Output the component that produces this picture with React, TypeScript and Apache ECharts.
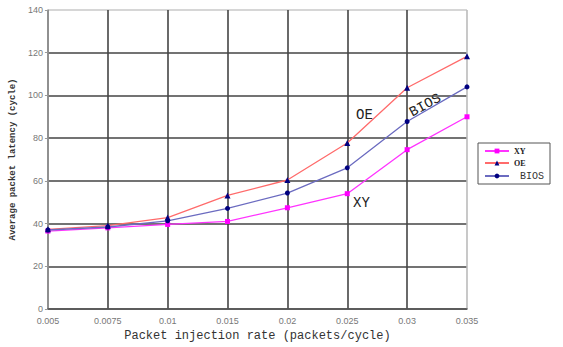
import React, { useEffect, useRef } from "react";
import * as echarts from "echarts";

const categories = ["0.005", "0.0075", "0.01", "0.015", "0.02", "0.025", "0.03", "0.035"];
const xyValues = [36.5, 38, 39.6, 41, 47.4, 54, 74.6, 90];
const oeValues = [37.3, 39, 42.8, 53.2, 60.4, 77.7, 103.6, 118.3];
const biosValues = [37, 38.4, 41.3, 47.1, 54.3, 66.1, 87.8, 104];
const yTicks = { min: 0, max: 140, interval: 20 };

const mono = "'Liberation Mono', 'DejaVu Sans Mono', monospace";

export default function App() {
  const ref = useRef<HTMLDivElement>(null);
  useEffect(() => {
    if (!ref.current) return;
    const chart = echarts.init(ref.current, null, { renderer: "svg" });
    const xSplit = ["#555", "#444", "#444", "#444", "#444", "#444", "#444", "#bbb"];
    const ySplit = ["#444", "#444", "#444", "#444", "#444", "#444", "#444", "#c8c8c8"];
    chart.setOption({
      animation: false,
      backgroundColor: "#ffffff",
      grid: { left: 43, top: 10, width: 424, height: 305, containLabel: false },
      xAxis: {
        type: "category",
        data: categories,
        boundaryGap: false,
        axisLine: { show: true, lineStyle: { color: "#555", width: 1.5 } },
        axisTick: { show: false },
        axisLabel: { color: "#777", fontSize: 9, fontFamily: "Arial, 'Liberation Sans', sans-serif", margin: 7 },
        splitLine: { show: true, lineStyle: { color: xSplit, width: 1.6 } },
        name: "Packet injection rate (packets/cycle)",
        nameLocation: "middle",
        nameGap: 21,
        nameTextStyle: { fontFamily: mono, fontSize: 12, color: "#333" },
      },
      yAxis: {
        type: "value",
        min: yTicks.min,
        max: yTicks.max,
        interval: yTicks.interval,
        axisLine: { show: true, lineStyle: { color: "#999", width: 1.5 } },
        axisTick: { show: true, length: 3, lineStyle: { color: "#999" } },
        axisLabel: { color: "#777", fontSize: 9, fontFamily: "Arial, 'Liberation Sans', sans-serif", margin: 5 },
        splitLine: { show: true, lineStyle: { color: ySplit, width: 1.6 } },
        name: "Average packet latency (cycle)",
        nameLocation: "middle",
        nameGap: 16,
        nameRotate: 90,
        nameTextStyle: { fontFamily: mono, fontSize: 9, fontWeight: "bold", color: "#333" },
      },
      legend: {
        orient: "vertical",
        left: 478,
        top: 143,
        width: 77,
        padding: [4, 6, 3, 6],
        itemGap: 4,
        itemWidth: 24,
        itemHeight: 6,
        borderColor: "#555",
        borderWidth: 1,
        data: [
          { name: "XY", textStyle: { fontFamily: "'Liberation Serif', serif", fontWeight: "bold", fontSize: 8, color: "#222" } },
          { name: "OE", textStyle: { fontFamily: "'Liberation Serif', serif", fontWeight: "bold", fontSize: 8, color: "#222" } },
          { name: "BIOS", textStyle: { fontFamily: mono, fontSize: 10, color: "#333", padding: [0, 0, 0, 6] } },
        ],
      },
      graphic: [
        { type: "text", left: 356, top: 108, style: { text: "OE", font: "14px " + mono, fill: "#222" } },
        { type: "text", x: 407, y: 107, rotation: 0.5, style: { text: "BIOS", font: "14px " + mono, fill: "#222" } },
        { type: "text", left: 353, top: 196, style: { text: "XY", font: "14px " + mono, fill: "#222" } },
      ],
      series: [
        {
          name: "XY",
          type: "line",
          data: xyValues,
          symbol: "rect",
          symbolSize: 5,
          lineStyle: { color: "#ff33ff", width: 1.3 },
          itemStyle: { color: "#ff00ff" },
        },
        {
          name: "OE",
          type: "line",
          data: oeValues,
          symbol: "triangle",
          symbolSize: 6,
          lineStyle: { color: "#ff6b6b", width: 1.3 },
          itemStyle: { color: "#000080" },
        },
        {
          name: "BIOS",
          type: "line",
          data: biosValues,
          symbol: "circle",
          symbolSize: 5,
          lineStyle: { color: "#6b6bc0", width: 1.3 },
          itemStyle: { color: "#000080" },
        },
      ],
    });
    return () => chart.dispose();
  }, []);
  return (
    <div
      ref={ref}
      style={{ position: "fixed", left: 0, top: 0, width: 563, height: 347, background: "#fff" }}
    />
  );
}
